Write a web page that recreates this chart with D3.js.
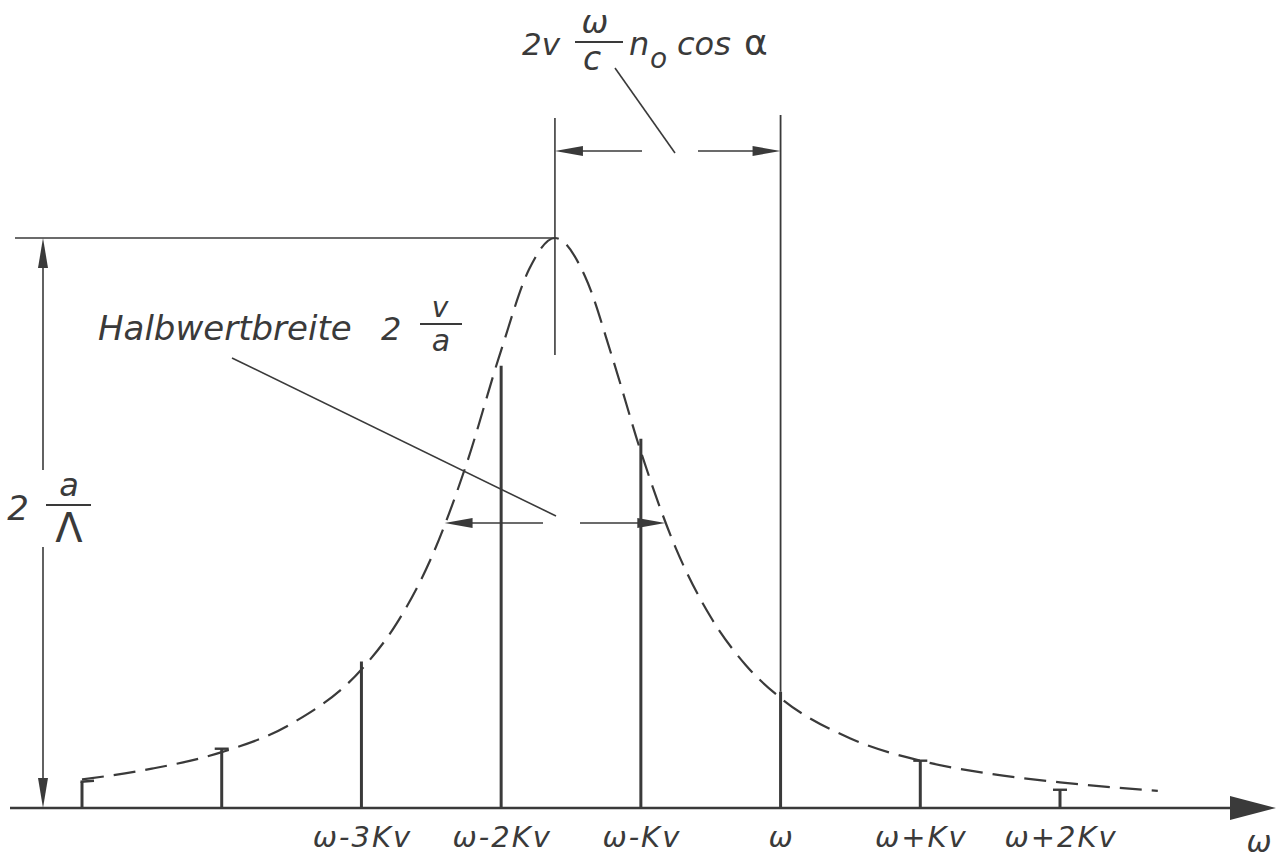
<!DOCTYPE html>
<html><head><meta charset="utf-8">
<script src="https://cdn.jsdelivr.net/npm/d3@7"></script>
<style>body{margin:0;background:#fff}svg{display:block}text{font-family:"DejaVu Sans",sans-serif;font-style:italic;fill:#3a3a3a}</style>
</head><body><svg id="c" width="1285" height="860"></svg>
<script>
// Order offsets (in units of Kv) of the spectral lines
const lineOffsets = [-5, -4, -3, -2, -1, 0, 1, 2];
// Relative line intensities (peak of envelope = 1)
const lineHeights = [0.046, 0.104, 0.257, 0.776, 0.648, 0.204, 0.083, 0.032];
// Tick labels under the lines (empty for unlabeled)
const tickLabels = ["", "", "ω-3Kv", "ω-2Kv", "ω-Kv", "ω", "ω+Kv", "ω+2Kv"];
// Dashed envelope (Lorentz curve): offset, intensity
const envOffsets = [-5, -4.5, -4, -3.5, -3, -2.75, -2.5, -2.25, -2, -1.8, -1.615, -1.4, -1.2, -1, -0.75, -0.5, -0.25, 0, 0.5, 1, 1.5, 2, 2.7];
const envValues  = [0.05, 0.069, 0.098, 0.148, 0.243, 0.323, 0.439, 0.602, 0.803, 0.945, 1.0, 0.933, 0.787, 0.625, 0.456, 0.335, 0.251, 0.193, 0.122, 0.083, 0.06, 0.045, 0.03];
const peakOffset = -1.615;
const halfWidth = 0.79; // half width at half maximum, in Kv

const svg = d3.select("#c");
const col = "#3a3a3a";
const x = d3.scaleLinear().domain([-5, 2]).range([82, 1060]);
const y = d3.scaleLinear().domain([0, 1]).range([808, 238]);

function arrowHead(tipX, tipY, dir, len, w) {
  let p;
  if (dir === 'l') p = [[tipX, tipY], [tipX + len, tipY - w], [tipX + len, tipY + w]];
  if (dir === 'r') p = [[tipX, tipY], [tipX - len, tipY - w], [tipX - len, tipY + w]];
  if (dir === 'u') p = [[tipX, tipY], [tipX - w, tipY + len], [tipX + w, tipY + len]];
  if (dir === 'd') p = [[tipX, tipY], [tipX - w, tipY - len], [tipX + w, tipY - len]];
  svg.append("path").attr("d", "M" + p.join("L") + "Z").attr("fill", col);
}
function line(x1, y1, x2, y2, w) {
  svg.append("line").attr("x1", x1).attr("y1", y1).attr("x2", x2).attr("y2", y2)
    .attr("stroke", col).attr("stroke-width", w || 1.6);
}
function txt(tx, ty, s, size, anchor, upright) {
  const t = svg.append("text").attr("x", tx).attr("y", ty).attr("font-size", size)
    .attr("text-anchor", anchor || "start").text(s);
  if (upright) t.style("font-style", "normal");
  return t;
}

// baseline axis with arrow
line(10, y(0), 1235, y(0), 2.6);
arrowHead(1276, y(0), 'r', 46, 12);

// envelope
const env = envOffsets.map((k, i) => [k, envValues[i]]);
svg.append("path").datum(env)
  .attr("d", d3.line().x(d => x(d[0])).y(d => y(d[1])).curve(d3.curveMonotoneX))
  .attr("fill", "none").attr("stroke", col).attr("stroke-width", 2.2)
  .attr("stroke-dasharray", "22,10");

// stems
const stems = lineOffsets.map((k, i) => ({k, v: lineHeights[i], label: tickLabels[i]}));
svg.selectAll(".stem").data(stems).join("line")
  .attr("x1", d => x(d.k)).attr("x2", d => x(d.k))
  .attr("y1", y(0)).attr("y2", d => y(d.v))
  .attr("stroke", col).attr("stroke-width", 3);
stems.filter(d => d.v < 0.15).forEach(d => {
  const xx = x(d.k);
  if (d.k === -5) line(xx - 1.5, y(d.v), xx + 12, y(d.v) - 1, 2.6);
  else line(xx - 7, y(d.v), xx + 7, y(d.v), 2.4);
});
// the ω line extends up to the top dimension
line(x(0), y(0.204), x(0), 115, 1.8);

// tick labels
svg.selectAll(".tl").data(stems.filter(d => d.label)).join("text")
  .attr("x", d => x(d.k) + 1).attr("y", 847).attr("text-anchor", "middle")
  .attr("font-size", 29).attr("letter-spacing", 2).text(d => d.label);
txt(1259, 852, "ω", 30, "middle");

// peak height dimension
line(15, y(1), x(peakOffset), y(1), 1.6);
line(43, y(1) + 20, 43, 470, 1.6);
line(43, 547, 43, y(0) - 20, 1.6);
arrowHead(43, y(1), 'u', 30, 5);
arrowHead(43, y(0), 'd', 30, 5);
txt(18, 520, "2", 34, "middle");
line(46, 505, 91, 505, 2);
txt(69, 496, "a", 32, "middle");
txt(69, 542, "Λ", 40, "middle", true);

// top dimension: distance peak -> ω
const px = x(peakOffset), wx = x(0);
line(px, 118, px, 355, 1.6);
line(px + 20, 151, 642, 151, 1.6);
line(698, 151, wx - 20, 151, 1.6);
arrowHead(px, 151, 'l', 28, 5);
arrowHead(wx, 151, 'r', 28, 5);
line(615, 68, 675, 153, 1.6);
txt(522, 55, "2v", 31);
line(575, 42, 623, 42, 2);
txt(595, 33, "ω", 32, "middle");
txt(592, 70, "c", 33, "middle");
txt(629, 55, "n", 32);
txt(650, 68, "o", 28);
txt(677, 55, "cos", 32);
txt(744, 55, "α", 36, "start", true);

// half-width dimension
const hy = y(0.5);
const hl = x(peakOffset - halfWidth), hr = x(peakOffset + halfWidth);
line(hl + 20, hy, 543, hy, 1.6);
line(580, hy, hr - 20, hy, 1.6);
arrowHead(hl, hy, 'l', 28, 5);
arrowHead(hr, hy, 'r', 28, 5);
line(232, 358, 556, 516, 1.6);
txt(98, 340, "Halbwertbreite", 34);
txt(381, 340, "2", 32);
line(420, 324, 462, 324, 2);
txt(440, 317, "v", 28, "middle");
txt(441, 351, "a", 30, "middle");
</script></body></html>
